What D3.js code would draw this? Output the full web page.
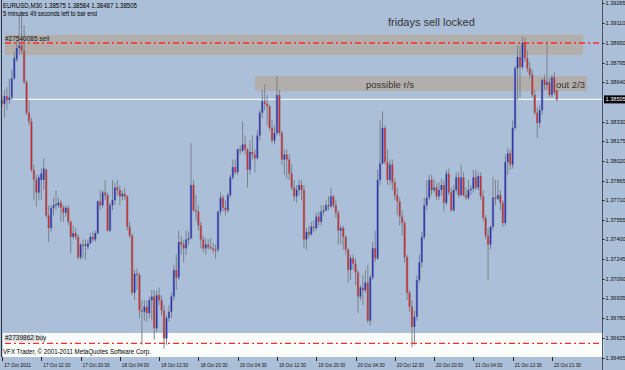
<!DOCTYPE html>
<html>
<head>
<meta charset="utf-8">
<script src="https://cdn.jsdelivr.net/npm/d3@7"></script>
<style>
  body { margin: 0; background: #abbfd8; }
  svg text { font-family: "Liberation Sans", Arial, sans-serif; }
</style>
</head>
<body>
<div id="chart"></div>
<script>
// EURUSD M30 bars, 17 Oct 2011 -> 23 Oct 2011
const opens = [
1.3850,1.3847,1.3853,1.3850,1.3852,1.3867,1.3882,1.3891,1.3893,1.3889,
1.3864,1.3840,1.3833,1.3795,1.3787,1.3777,1.3787,1.3787,1.3795,1.3759,
1.3749,1.3765,1.3767,1.3767,1.3769,1.3765,1.3761,1.3765,1.3754,1.3742,
1.3745,1.3742,1.3726,1.3736,1.3735,1.3734,1.3737,1.3742,1.3740,1.3745,
1.3770,1.3767,1.3777,1.3775,1.3747,1.3767,1.3771,1.3781,1.3779,1.3774,
1.3776,1.3774,1.3750,1.3743,1.3698,1.3713,1.3712,1.3684,1.3683,1.3687,
1.3682,1.3692,1.3695,1.3670,1.3696,1.3692,1.3684,1.3662,1.3678,1.3683,
1.3695,1.3716,1.3710,1.3738,1.3736,1.3733,1.3740,1.3741,1.3783,1.3763,
1.3762,1.3751,1.3740,1.3733,1.3736,1.3734,1.3733,1.3732,1.3732,1.3762,
1.3773,1.3765,1.3763,1.3775,1.3789,1.3797,1.3793,1.3811,1.3810,1.3815,
1.3811,1.3795,1.3809,1.3807,1.3804,1.3822,1.3840,1.3849,1.3847,1.3845,
1.3828,1.3818,1.3824,1.3854,1.3824,1.3803,1.3807,1.3803,1.3792,1.3781,
1.3774,1.3779,1.3783,1.3779,1.3740,1.3746,1.3744,1.3750,1.3749,1.3758,
1.3754,1.3762,1.3763,1.3767,1.3766,1.3774,1.3767,1.3761,1.3747,1.3749,
1.3742,1.3732,1.3716,1.3725,1.3721,1.3714,1.3695,1.3702,1.3700,1.3706,
1.3676,1.3710,1.3733,1.3725,1.3787,1.3800,1.3828,1.3801,1.3787,1.3799,
1.3785,1.3775,1.3770,1.3758,1.3753,1.3726,1.3698,1.3687,1.3671,1.3679,
1.3708,1.3722,1.3742,1.3767,1.3773,1.3787,1.3779,1.3781,1.3774,1.3779,
1.3783,1.3769,1.3792,1.3777,1.3763,1.3779,1.3789,1.3775,1.3789,1.3775,
1.3773,1.3779,1.3780,1.3789,1.3781,1.3790,1.3774,1.3757,1.3743,1.3736,
1.3750,1.3773,1.3772,1.3775,1.3769,1.3753,1.3801,1.3808,1.3799,1.3828,
1.3875,1.3884,1.3876,1.3895,1.3883,1.3875,1.3870,1.3854,1.3840,1.3832,
1.3842,1.3866,1.3862,1.3864,1.3854,1.3868,1.38575];

const highs = [
1.3854,1.3858,1.3860,1.3867,1.3874,1.3888,1.3897,1.3917,1.3918,1.3909,
1.3866,1.3850,1.3836,1.3799,1.3791,1.3791,1.3796,1.3804,1.3796,1.3767,
1.3767,1.3773,1.3779,1.3773,1.3771,1.3767,1.3767,1.3767,1.3755,1.3751,
1.3749,1.3744,1.3737,1.3740,1.3740,1.3740,1.3745,1.3746,1.3747,1.3771,
1.3779,1.3779,1.3787,1.3777,1.3769,1.3787,1.3785,1.3787,1.3783,1.3779,
1.3781,1.3775,1.3754,1.3745,1.3716,1.3717,1.3714,1.3692,1.3692,1.3692,
1.3695,1.3700,1.3700,1.3700,1.3702,1.3696,1.3688,1.3680,1.3688,1.3698,
1.3720,1.3728,1.3747,1.3743,1.3740,1.3747,1.3746,1.3816,1.3787,1.3775,
1.3767,1.3754,1.3743,1.3741,1.3740,1.3741,1.3737,1.3736,1.3763,1.3777,
1.3775,1.3771,1.3777,1.3791,1.3803,1.3803,1.3812,1.3814,1.3833,1.3822,
1.3812,1.3818,1.3822,1.3811,1.3826,1.3842,1.3858,1.3862,1.3854,1.3846,
1.3834,1.3830,1.3869,1.3858,1.3826,1.3811,1.3811,1.3807,1.3799,1.3787,
1.3783,1.3787,1.3787,1.3783,1.3749,1.3751,1.3754,1.3755,1.3761,1.3762,
1.3767,1.3767,1.3771,1.3774,1.3781,1.3775,1.3771,1.3763,1.3751,1.3751,
1.3743,1.3733,1.3728,1.3728,1.3725,1.3716,1.3704,1.3712,1.3716,1.3720,
1.3712,1.3738,1.3747,1.3795,1.3834,1.3841,1.3830,1.3811,1.3803,1.3803,
1.3788,1.3781,1.3773,1.3763,1.3755,1.3728,1.3700,1.3692,1.3684,1.3712,
1.3728,1.3746,1.3773,1.3787,1.3791,1.3791,1.3788,1.3785,1.3785,1.3788,
1.3787,1.3795,1.3796,1.3781,1.3783,1.3793,1.3793,1.3799,1.3793,1.3781,
1.3787,1.3783,1.3795,1.3795,1.3793,1.3793,1.3779,1.3759,1.3749,1.3751,
1.3789,1.3787,1.3787,1.3779,1.3771,1.3807,1.3812,1.3811,1.3834,1.3877,
1.3893,1.3893,1.3900,1.3899,1.3889,1.3880,1.3874,1.3858,1.3844,1.3846,
1.3867,1.3870,1.3896,1.3867,1.3870,1.3872,1.38584];

const lows = [
1.3845,1.3836,1.3842,1.3847,1.3850,1.3866,1.3880,1.3886,1.3886,1.3863,
1.3838,1.3830,1.3793,1.3771,1.3766,1.3771,1.3771,1.3779,1.3757,1.3738,
1.3746,1.3759,1.3763,1.3765,1.3754,1.3754,1.3758,1.3751,1.3729,1.3740,
1.3740,1.3724,1.3724,1.3725,1.3724,1.3732,1.3736,1.3738,1.3738,1.3744,
1.3763,1.3765,1.3771,1.3746,1.3746,1.3763,1.3767,1.3775,1.3767,1.3771,
1.3771,1.3747,1.3741,1.3696,1.3692,1.3700,1.3678,1.3657,1.3676,1.3675,
1.3678,1.3676,1.3661,1.3667,1.3688,1.3680,1.3654,1.3657,1.3675,1.3678,
1.3692,1.3700,1.3708,1.3728,1.3722,1.3728,1.3736,1.3740,1.3762,1.3755,
1.3747,1.3733,1.3730,1.3728,1.3732,1.3732,1.3729,1.3725,1.3730,1.3759,
1.3762,1.3759,1.3761,1.3773,1.3787,1.3791,1.3791,1.3807,1.3809,1.3807,
1.3781,1.3791,1.3803,1.3793,1.3803,1.3818,1.3836,1.3842,1.3830,1.3826,
1.3816,1.3815,1.3822,1.3822,1.3799,1.3791,1.3788,1.3787,1.3779,1.3770,
1.3769,1.3775,1.3771,1.3733,1.3732,1.3741,1.3743,1.3746,1.3747,1.3751,
1.3751,1.3759,1.3762,1.3763,1.3765,1.3765,1.3757,1.3736,1.3736,1.3732,
1.3728,1.3706,1.3708,1.3716,1.3704,1.3682,1.3692,1.3688,1.3698,1.3674,
1.3672,1.3708,1.3722,1.3724,1.3783,1.3799,1.3799,1.3783,1.3783,1.3779,
1.3771,1.3759,1.3751,1.3743,1.3722,1.3692,1.3683,1.3655,1.3657,1.3676,
1.3706,1.3718,1.3740,1.3763,1.3771,1.3775,1.3777,1.3771,1.3771,1.3775,
1.3762,1.3767,1.3775,1.3762,1.3762,1.3777,1.3773,1.3774,1.3774,1.3771,
1.3771,1.3775,1.3777,1.3779,1.3779,1.3771,1.3754,1.3740,1.3708,1.3732,
1.3747,1.3767,1.3771,1.3763,1.3750,1.3751,1.3791,1.3795,1.3796,1.3826,
1.3850,1.3852,1.3874,1.3880,1.3872,1.3867,1.3852,1.3838,1.3820,1.3828,
1.3838,1.3858,1.3858,1.3852,1.3852,1.3854,1.38487];

const closes = [
1.3847,1.3853,1.3850,1.3852,1.3867,1.3883,1.3891,1.3893,1.3889,1.3864,
1.3840,1.3833,1.3795,1.3787,1.3777,1.3789,1.3792,1.3796,1.3759,1.3749,
1.3765,1.3767,1.3768,1.3769,1.3765,1.3761,1.3765,1.3754,1.3742,1.3745,
1.3742,1.3726,1.3736,1.3735,1.3736,1.3737,1.3742,1.3740,1.3745,1.3770,
1.3767,1.3777,1.3775,1.3747,1.3767,1.3771,1.3781,1.3779,1.3774,1.3776,
1.3774,1.3750,1.3743,1.3698,1.3713,1.3712,1.3684,1.3683,1.3687,1.3682,
1.3692,1.3695,1.3670,1.3696,1.3692,1.3684,1.3662,1.3678,1.3683,1.3695,
1.3716,1.3710,1.3738,1.3736,1.3733,1.3740,1.3741,1.3783,1.3763,1.3762,
1.3751,1.3740,1.3733,1.3736,1.3734,1.3733,1.3732,1.3731,1.3762,1.3773,
1.3765,1.3763,1.3775,1.3789,1.3797,1.3793,1.3811,1.3810,1.3815,1.3811,
1.3795,1.3809,1.3807,1.3804,1.3822,1.3840,1.3849,1.3847,1.3845,1.3828,
1.3818,1.3824,1.3854,1.3824,1.3803,1.3807,1.3803,1.3792,1.3781,1.3774,
1.3779,1.3783,1.3779,1.3740,1.3746,1.3744,1.3750,1.3749,1.3758,1.3754,
1.3762,1.3763,1.3767,1.3766,1.3774,1.3767,1.3761,1.3747,1.3749,1.3742,
1.3732,1.3716,1.3725,1.3721,1.3714,1.3695,1.3702,1.3700,1.3706,1.3676,
1.3710,1.3733,1.3725,1.3787,1.3800,1.3828,1.3801,1.3787,1.3799,1.3785,
1.3775,1.3770,1.3758,1.3753,1.3726,1.3698,1.3687,1.3671,1.3679,1.3708,
1.3722,1.3742,1.3767,1.3773,1.3787,1.3779,1.3781,1.3774,1.3779,1.3783,
1.3769,1.3792,1.3777,1.3763,1.3779,1.3789,1.3775,1.3789,1.3775,1.3773,
1.3779,1.3780,1.3789,1.3781,1.3790,1.3774,1.3757,1.3743,1.3736,1.3750,
1.3773,1.3772,1.3775,1.3769,1.3753,1.3801,1.3808,1.3799,1.3828,1.3875,
1.3884,1.3876,1.3895,1.3883,1.3875,1.3870,1.3854,1.3840,1.3832,1.3842,
1.3866,1.3862,1.3864,1.3854,1.3868,1.3856,1.38505];

// time axis: label every 16 bars
const timeLabels = ["17 Oct 2011","17 Oct 12:30","17 Oct 20:30","18 Oct 04:30","18 Oct 12:30",
  "18 Oct 20:30","19 Oct 04:30","19 Oct 12:30","19 Oct 20:30","20 Oct 04:30","20 Oct 12:30",
  "20 Oct 20:30","21 Oct 04:30","21 Oct 12:30","23 Oct 21:30"];
const priceTicks = [1.39265,1.39110,1.38950,1.38795,1.38640,1.38330,1.38175,1.38020,1.37865,
  1.37710,1.37555,1.37400,1.37245,1.37090,1.36935,1.36780,1.36625,1.36465];

const bid = 1.38505;
const sellLevel = 1.3895;
const buyLevel = 1.3658;

let svgWidth = 625, svgHeight = 370;
let plotRight = 602, plotBottom = 357;

let svg = d3.select("#chart").append("svg")
  .attr("width", svgWidth).attr("height", svgHeight);

svg.append("rect").attr("width", svgWidth).attr("height", svgHeight).attr("fill", "#abbfd8");

let x = d3.scaleLinear().domain([0, 245]).range([2, 2 + 245 * 2.455]);
let y = d3.scaleLinear().domain([1.36473, 1.39289]).range([plotBottom, 0]);

// zones drawn behind the bars
let zones = [
  {i0: 1.2, i1: 236.7, p0: 1.39015, p1: 1.38855, fill: "#b2aeac"},
  {i0: 103, i1: 238.3, p0: 1.38689, p1: 1.38571, fill: "#b2aeac"},
  {i0: 0.3, i1: 245, p0: 1.36662, p1: 1.36473, fill: "#fbfdfb"}
];
svg.selectAll(".zone").data(zones).enter().append("rect")
  .attr("x", d => x(d.i0)).attr("width", d => x(d.i1) - x(d.i0))
  .attr("y", d => y(d.p0)).attr("height", d => y(d.p1) - y(d.p0))
  .attr("fill", d => d.fill);

// bid line
svg.append("line").attr("x1", 2).attr("x2", plotRight)
  .attr("y1", y(bid)).attr("y2", y(bid)).attr("stroke", "#f4f6f8").attr("stroke-width", 1.2);

let bars = opens.map((o, i) => ({i: i, o: o, h: highs[i], l: lows[i], c: closes[i]}));

let g = svg.append("g");
g.selectAll(".wick").data(bars).enter().append("line")
  .attr("x1", d => x(d.i)).attr("x2", d => x(d.i))
  .attr("y1", d => y(d.h)).attr("y2", d => y(d.l))
  .attr("stroke", "#7b838e").attr("stroke-width", 1);

g.selectAll(".body").data(bars).enter().append("rect")
  .attr("x", d => x(d.i) - 1.2).attr("width", 2.4)
  .attr("y", d => y(Math.max(d.o, d.c)))
  .attr("height", d => Math.max(1, Math.abs(y(d.o) - y(d.c))))
  .attr("fill", "#858d99");

g.selectAll(".core").data(bars).enter().append("rect")
  .attr("x", d => x(d.i) - 0.6).attr("width", 1.2)
  .attr("y", d => y(Math.max(d.o, d.c)))
  .attr("height", d => Math.max(1, Math.abs(y(d.o) - y(d.c))))
  .attr("fill", d => d.c >= d.o ? "#2430c8" : "#d8262a");

// order lines
[sellLevel, buyLevel].forEach(p => {
  svg.append("line").attr("x1", 5).attr("x2", plotRight)
    .attr("y1", y(p)).attr("y2", y(p))
    .attr("stroke", "#ff2a2a").attr("stroke-width", 1.3)
    .attr("stroke-dasharray", "6,3,2,3");
});

svg.append("text").attr("x", 5).attr("y", y(sellLevel) - 2)
  .attr("font-size", "6.5px").attr("fill", "#111").text("#27540085 sell");
svg.append("rect").attr("x", 4).attr("y", y(buyLevel) - 9).attr("width", 40).attr("height", 7).attr("fill", "#d9dde2");
svg.append("text").attr("x", 5).attr("y", y(buyLevel) - 3.5)
  .attr("font-size", "6.5px").attr("fill", "#111").text("#2739862 buy");

// annotations
svg.append("text").attr("x", 388).attr("y", 26).attr("font-size", "11px").attr("fill", "#333").text("fridays sell locked");
svg.append("text").attr("x", 366).attr("y", 88).attr("font-size", "9.5px").attr("fill", "#333").text("possible r/s");
svg.append("text").attr("x", 556).attr("y", 88).attr("font-size", "9.5px").attr("fill", "#333").text("out 2/3");

// header
svg.append("text").attr("x", 3).attr("y", 8).attr("font-size", "7px").attr("fill", "#000")
  .attr("textLength", 134).attr("lengthAdjust", "spacingAndGlyphs")
  .text("EURUSD,M30  1.38575 1.38584 1.38487 1.38505");
svg.append("text").attr("x", 3).attr("y", 16).attr("font-size", "7px").attr("fill", "#000")
  .attr("textLength", 94).attr("lengthAdjust", "spacingAndGlyphs")
  .text("5 minutes 49 seconds left to bar end");
svg.append("text").attr("x", 3).attr("y", 354).attr("font-size", "6.5px").attr("fill", "#000")
  .attr("textLength", 148).attr("lengthAdjust", "spacingAndGlyphs")
  .text("VFX Trader, \u00a9 2001-2011 MetaQuotes Software Corp.");

// frame
svg.append("line").attr("x1", 1.5).attr("x2", 1.5).attr("y1", 0).attr("y2", plotBottom).attr("stroke", "#2c3540");
svg.append("line").attr("x1", plotRight + 0.5).attr("x2", plotRight + 0.5).attr("y1", 0).attr("y2", svgHeight).attr("stroke", "#4a5563");

// price axis
let yAxis = svg.append("g");
yAxis.selectAll(".pt").data(priceTicks).enter().append("line")
  .attr("x1", plotRight).attr("x2", plotRight + 2.5)
  .attr("y1", d => Math.round(y(d)) + 0.5).attr("y2", d => Math.round(y(d)) + 0.5)
  .attr("stroke", "#222");
yAxis.selectAll(".pl").data(priceTicks).enter().append("text")
  .attr("x", plotRight + 3.5).attr("y", d => y(d) + 2)
  .attr("font-size", "5.6px").attr("fill", "#111")
  .text(d => d.toFixed(5));
yAxis.append("rect").attr("x", plotRight + 2).attr("y", y(bid) - 4).attr("width", 23).attr("height", 8).attr("fill", "#000");
yAxis.append("text").attr("x", plotRight + 3.5).attr("y", y(bid) + 2)
  .attr("font-size", "5.6px").attr("fill", "#fff").text(bid.toFixed(5));

// time axis
let xAxis = svg.append("g");
xAxis.selectAll(".tt").data(timeLabels).enter().append("line")
  .attr("x1", (d, k) => Math.round(x(k * 16)) + 0.5).attr("x2", (d, k) => Math.round(x(k * 16)) + 0.5)
  .attr("y1", plotBottom).attr("y2", plotBottom + 4).attr("stroke", "#222");
xAxis.selectAll(".tl").data(timeLabels).enter().append("text")
  .attr("x", (d, k) => x(k * 16) + 2).attr("y", 367)
  .attr("font-size", "6px").attr("fill", "#111")
  .attr("textLength", 27).attr("lengthAdjust", "spacingAndGlyphs")
  .text(d => d);
</script>
</body>
</html>
